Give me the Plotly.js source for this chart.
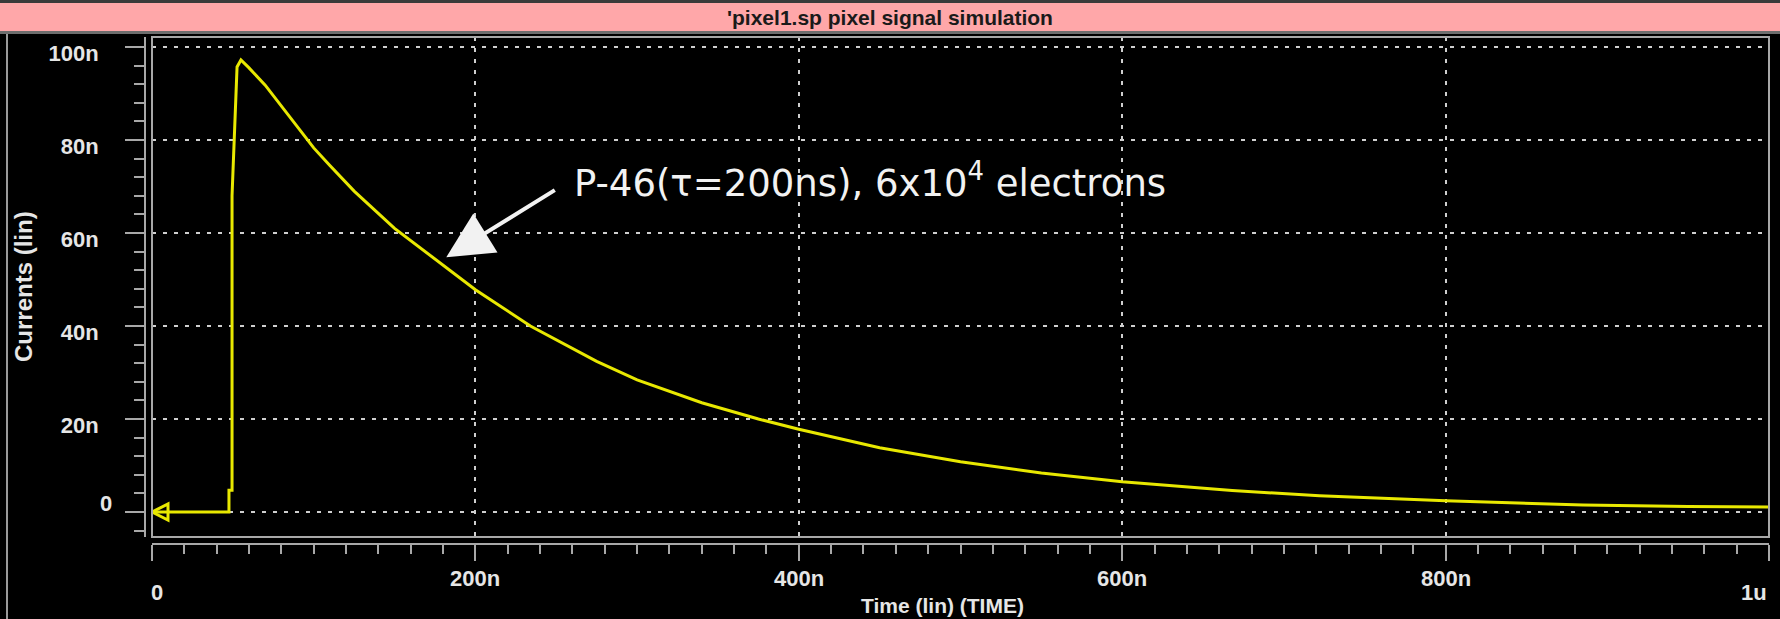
<!DOCTYPE html>
<html>
<head>
<meta charset="utf-8">
<script src="https://cdn.plot.ly/plotly-3.0.1.min.js"></script>
<style>
html,body{margin:0;padding:0;background:#000;}
#chart{width:1780px;height:619px;}
</style>
</head>
<body>
<div id="chart"></div>
<script>
// Data (time in ns, current in nA)
const times    = [0, 47.6, 47.6, 49.5, 49.5, 51.8, 52.6, 55, 60, 70, 80, 90, 100, 110, 125, 150, 175, 200, 234, 250, 275, 300, 340, 375, 400, 450, 500, 550, 600, 668, 722, 800, 885, 950, 1000];
const currents = [0, 0, 4.7, 4.7, 68, 86.5, 95.7, 97.2, 95.5, 91.8, 87.3, 82.6, 78.3, 74.5, 69, 61, 54.3, 47.8, 40, 37, 32.4, 28.4, 23.5, 20, 17.8, 13.8, 10.8, 8.4, 6.5, 4.6, 3.5, 2.4, 1.5, 1.2, 1.05];

const xTickVals   = [0, 200, 400, 600, 800, 1000];
const xTickLabels = ['0', '200n', '400n', '600n', '800n', '1u'];
const yTickVals   = [0, 20, 40, 60, 80, 100];
const yTickLabels = ['0', '20n', '40n', '60n', '80n', '100n'];

const chartTitle = "'pixel1.sp pixel signal simulation";
const xTitle = 'Time (lin) (TIME)';
const yTitle = 'Currents (lin)';
const noteText = 'P-46(τ=200ns), 6x10<sup>4</sup> electrons';
const noteX = 260, noteY = 71.2;      // text anchor (data)
const arrowHeadX = 182, arrowHeadY = 54.8; // arrow tip (data)

const W = 1780, H = 619;
const px = v => v / W;
const py = v => 1 - v / H;

const grey = '#a8a8a8';
const labelFont = {family: 'Liberation Sans, Arial, sans-serif', size: 22, color: '#e6e6e6', weight: 'bold'};

const traces = [
  {
    x: times, y: currents, type: 'scatter', mode: 'lines',
    line: {color: '#e8e800', width: 3}, hoverinfo: 'skip', cliponaxis: false
  },
  {
    x: [times[0]], y: [currents[0]], type: 'scatter', mode: 'markers',
    marker: {symbol: 'arrow-left-open', size: 16, color: '#e8e800', line: {color: '#e8e800', width: 3}},
    cliponaxis: false, hoverinfo: 'skip'
  }
];

// x tick labels as annotations (end labels sit lower, as in the reference)
const xLabelAnns = xTickLabels.map((t, i) => {
  const last = i === xTickLabels.length - 1, first = i === 0;
  return {
    text: t, xref: 'x', yref: 'paper', x: xTickVals[i],
    xshift: first ? 5 : 0,
    y: (first || last) ? py(592) : py(578),
    xanchor: last ? 'right' : 'center', yanchor: 'middle',
    showarrow: false, font: labelFont
  };
});

const layout = {
  width: W, height: H,
  paper_bgcolor: '#000', plot_bgcolor: '#000',
  showlegend: false,
  margin: {l: 0, r: 0, t: 0, b: 0, pad: 0},
  title: {
    text: chartTitle, x: 0.5, xanchor: 'center', y: py(18), yanchor: 'middle',
    font: {family: 'Liberation Sans Narrow, Liberation Sans, Arial, sans-serif', size: 21, color: '#1a1a1a', weight: 'bold'}
  },
  xaxis: {
    domain: [px(152), px(1769)],
    range: [0, 1000],
    anchor: 'free', position: py(544),
    showline: true, linecolor: grey, linewidth: 2,
    tickmode: 'array', tickvals: xTickVals, showticklabels: false,
    ticks: 'outside', ticklen: 16, tickwidth: 2, tickcolor: grey,
    showgrid: true, gridcolor: '#cfcfcf', gridwidth: 2, griddash: '4px,7px',
    zeroline: false,
    minor: {tickmode: 'linear', tick0: 0, dtick: 20, ticks: 'outside', ticklen: 9, tickwidth: 2, tickcolor: grey, showgrid: false}
  },
  yaxis: {
    domain: [1 - 537 / H, 1 - 37 / H],
    range: [-5.376, 102.15],
    anchor: 'free', position: px(145),
    showline: true, linecolor: grey, linewidth: 2,
    tickmode: 'array', tickvals: yTickVals,
    ticktext: yTickLabels.map((t, i) => i === 0 ? '' : t),
    ticks: 'outside', ticklen: 19, tickwidth: 2, tickcolor: grey,
    ticklabelstandoff: 22, ticklabelshift: 6,
    tickfont: labelFont,
    showgrid: true, gridcolor: '#cfcfcf', gridwidth: 2, griddash: '4px,7px',
    zeroline: false,
    minor: {tickmode: 'linear', tick0: 0, dtick: 4, ticks: 'outside', ticklen: 10, tickwidth: 2, tickcolor: grey, showgrid: false}
  },
  shapes: [
    {type: 'rect', xref: 'paper', yref: 'paper', x0: 0, x1: 1, y0: py(3), y1: 1, fillcolor: '#3a3a3a', line: {width: 0}, layer: 'below'},
    {type: 'rect', xref: 'paper', yref: 'paper', x0: 0, x1: 1, y0: py(31), y1: py(3), fillcolor: '#ffa7a9', line: {width: 0}, layer: 'below'},
    {type: 'rect', xref: 'paper', yref: 'paper', x0: 0, x1: 1, y0: py(34), y1: py(31), fillcolor: '#6e6e6e', line: {width: 0}, layer: 'below'},
    {type: 'line', xref: 'paper', yref: 'paper', x0: px(7), x1: px(7), y0: 0, y1: py(34), line: {color: '#9a9a9a', width: 2}},
    {type: 'rect', xref: 'x domain', yref: 'y domain', x0: 0, x1: 1, y0: 0, y1: 1, line: {color: grey, width: 2}, fillcolor: 'rgba(0,0,0,0)'}
  ],
  annotations: [
    {
      text: noteText, xref: 'x', yref: 'y', x: noteX, y: noteY,
      xanchor: 'left', yanchor: 'middle', showarrow: false,
      font: {family: 'DejaVu Sans, Verdana, sans-serif', size: 37, color: '#f2f2f2'}
    },
    {
      text: '', xref: 'x', yref: 'y', x: arrowHeadX, y: arrowHeadY,
      showarrow: true, ax: 110, ay: -68, arrowcolor: '#f2f2f2',
      arrowwidth: 4, arrowhead: 2, arrowsize: 2.3, standoff: 0, startstandoff: 0
    },
    {
      text: yTickLabels[0], xref: 'paper', yref: 'y', x: px(114), y: yTickVals[0], yshift: 9,
      xanchor: 'right', yanchor: 'middle', showarrow: false, font: labelFont
    },
    ...xLabelAnns,
    {
      text: xTitle, xref: 'paper', yref: 'paper', x: px(942), y: py(605),
      xanchor: 'center', yanchor: 'middle', showarrow: false,
      font: {family: 'Liberation Sans, Arial, sans-serif', size: 21, color: '#e6e6e6', weight: 'bold'}
    },
    {
      text: yTitle, xref: 'paper', yref: 'paper', x: px(23), y: py(287), textangle: -90,
      xanchor: 'center', yanchor: 'middle', showarrow: false,
      font: {family: 'Liberation Sans, Arial, sans-serif', size: 24, color: '#e6e6e6', weight: 'bold'}
    }
  ]
};

Plotly.newPlot('chart', traces, layout, {displayModeBar: false, staticPlot: true});
</script>
</body>
</html>
